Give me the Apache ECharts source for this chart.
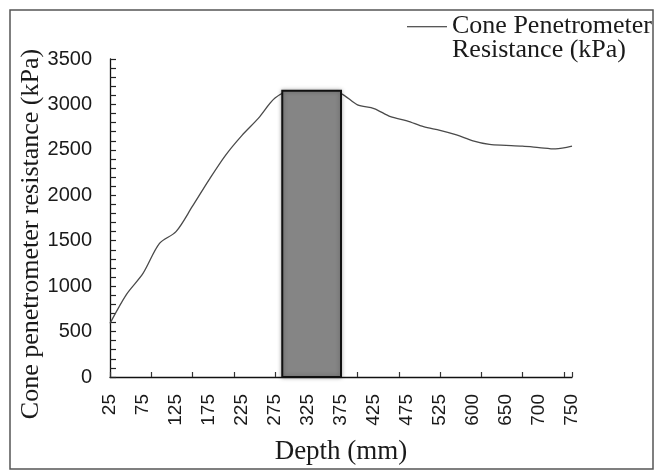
<!DOCTYPE html>
<html>
<head>
<meta charset="utf-8">
<script src="https://cdn.jsdelivr.net/npm/echarts@6/dist/echarts.min.js"></script>
<style>
  html, body { margin: 0; padding: 0; background: #fff; }
  #chart { width: 655px; height: 470px; }
</style>
</head>
<body>
<div id="chart"></div>
<script>
// depth categories (mm) and cone resistance (kPa)
const depths = ['25','50','75','100','125','150','175','200','225','250','275','300','325','350',
  '375','400','425','450','475','500','525','550','600','625','650','675','700','725','750']
const resistance = [590, 910, 1140, 1470, 1600, 1880, 2170, 2440, 2660, 2850, 3070, 3150, 3150, 3140,
  3120, 2995, 2955, 2865, 2820, 2755, 2715, 2665, 2600, 2560, 2550, 2540, 2525, 2510, 2540]

// shaded band (depth range in mm, top in kPa)
const bandDepth = [286, 375]
const bandTop = 3150

const yTicks = [0, 3500, 500]

// depth -> position on the category index scale
const depthToIndex = d => {
  const nums = depths.map(Number)
  for (let i = 0; i < nums.length - 1; i++) {
    if (d >= nums[i] && d <= nums[i + 1]) return i + (d - nums[i]) / (nums[i + 1] - nums[i])
  }
  return nums.length - 1
}

const chart = echarts.init(document.getElementById('chart'))
const sans = 'Liberation Sans, Arial, sans-serif'
const serif = 'Liberation Serif, Times New Roman, serif'

chart.setOption({
  animation: false,
  grid: { left: 110, right: 83, top: 59, bottom: 85 },
  graphic: [{
    type: 'rect', silent: true,
    shape: { x: 10, y: 10, width: 643, height: 459 },
    style: { fill: 'none', stroke: '#555', lineWidth: 1.5 }
  }],
  legend: {
    left: 407, top: 13, padding: 0,
    itemWidth: 40, itemHeight: 26,
    icon: 'path://M0,0H44V1.3H0Z M0,26H0.01V26.01H0Z',
    itemStyle: { borderWidth: 0 },
    formatter: () => 'Cone Penetrometer\nResistance (kPa)',
    textStyle: { fontFamily: serif, fontSize: 26, lineHeight: 24, color: '#1a1a1a' },
    data: ['Cone Penetrometer Resistance (kPa)']
  },
  xAxis: [{
    type: 'category',
    data: depths,
    boundaryGap: false,
    name: 'Depth (mm)',
    nameLocation: 'middle',
    nameGap: 61,
    nameMoveOverlap: false,
    nameTextStyle: { fontFamily: serif, fontSize: 27, color: '#1a1a1a' },
    axisLine: { lineStyle: { color: '#111', width: 1.3 } },
    axisTick: { show: false },
    axisLabel: { interval: 1, rotate: 90, margin: 17, fontFamily: sans, fontSize: 19, color: '#1a1a1a' },
    splitLine: { show: false }
  }, {
    type: 'value',
    position: 'bottom',
    min: 0, max: depths.length - 1, interval: 2.5,
    axisLine: { show: false },
    axisTick: { show: true, inside: true, length: 5, lineStyle: { color: '#333', width: 1.2 } },
    axisLabel: { show: false },
    splitLine: { show: false }
  }],
  yAxis: {
    type: 'value',
    min: yTicks[0], max: yTicks[1], interval: yTicks[2],
    name: 'Cone penetrometer resistance (kPa)',
    nameLocation: 'middle',
    nameGap: 66,
    nameMoveOverlap: false,
    nameTextStyle: { fontFamily: serif, fontSize: 26, color: '#1a1a1a', padding: [0, 32, 0, 0] },
    axisLine: { show: true, lineStyle: { color: '#111', width: 1.3 } },
    axisTick: { show: true, inside: true, length: 6, lineStyle: { color: '#222', width: 1.2 } },
    minorTick: { show: true, splitNumber: 5, length: 6, lineStyle: { color: '#222', width: 1.2 } },
    axisLabel: { margin: 18, fontFamily: sans, fontSize: 20, color: '#1a1a1a', formatter: v => String(v) },
    splitLine: { show: false }
  },
  series: [{
    name: 'Cone Penetrometer Resistance (kPa)',
    type: 'line',
    data: resistance,
    smooth: 0.3,
    symbol: 'none',
    lineStyle: { color: '#4a4a4a', width: 1.3 },
    itemStyle: { color: '#222' },
    z: 2
  }, {
    type: 'custom',
    xAxisIndex: 1,
    data: [[depthToIndex(bandDepth[0]), depthToIndex(bandDepth[1]), bandTop]],
    renderItem: (params, api) => {
      const p0 = api.coord([api.value(0), api.value(2)])
      const p1 = api.coord([api.value(1), 0])
      return {
        type: 'rect',
        shape: { x: p0[0], y: p0[1], width: p1[0] - p0[0], height: p1[1] - p0[1] },
        style: {
          fill: '#858585', stroke: '#111', lineWidth: 2,
          shadowBlur: 4, shadowColor: 'rgba(0,0,0,0.3)'
        }
      }
    },
    z: 3
  }]
})
</script>
</body>
</html>
